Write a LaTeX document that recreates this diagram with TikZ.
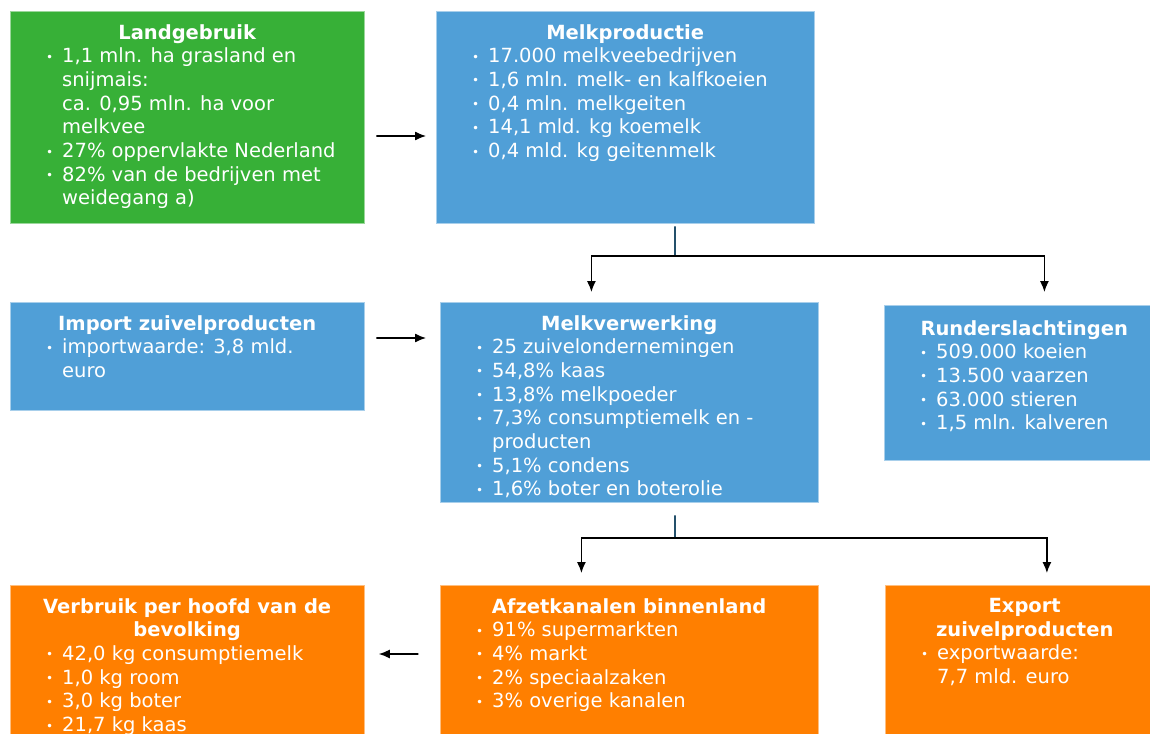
\documentclass[tikz,border=0pt]{standalone}
\usepackage{fontspec}
\setmainfont{DejaVu Sans}
\usetikzlibrary{arrows.meta}
\definecolor{landgreen}{HTML}{37B037}
\definecolor{flowblue}{HTML}{509FD7}
\definecolor{saleorange}{HTML}{FF7F00}
\definecolor{stemink}{HTML}{24506B}
\newcommand{\panelitem}{\makebox[17pt][l]{\hspace{1pt}\raisebox{1.5pt}{\fontsize{12}{12}\selectfont •}}}
\newcommand{\panelcont}{\hspace*{17pt}}
\newcommand{\paneltitle}[2]{\makebox[#1pt][c]{\bfseries #2}}

\begin{document}
\begin{tikzpicture}[x=1pt,y=-1pt,line cap=round,
    panel/.style={fill=#1,draw=#1!50!white,line width=0.8pt,anchor=north west,inner sep=0pt},
    paneltext/.style={anchor=north west,align=left,inner sep=0pt,text=white,font=\fontsize{19.5}{23.7}\selectfont},
    flow/.style={line width=1.3pt,black},
    flowarrow/.style={flow,-{Latex[length=11pt,width=9pt]}},
    stem/.style={line width=1.3pt,stemink}]
    \useasboundingbox (0,0) rectangle (1150,733);
    \clip (0,0) rectangle (1150,733);
    \node[panel=landgreen,minimum width=354,minimum height=212] (landbox) at (10,11) {};
    \node[panel=flowblue,minimum width=378,minimum height=212] (prodbox) at (436,11) {};
    \node[panel=flowblue,minimum width=354,minimum height=108] (importbox) at (10,302) {};
    \node[panel=flowblue,minimum width=378,minimum height=200] (verwbox) at (440,302) {};
    \node[panel=flowblue,minimum width=280,minimum height=155] (runderbox) at (884,305) {};
    \node[panel=saleorange,minimum width=354,minimum height=160] (verbruikbox) at (10,585) {};
    \node[panel=saleorange,minimum width=378,minimum height=160] (afzetbox) at (440,585) {};
    \node[panel=saleorange,minimum width=279,minimum height=160] (exportbox) at (885,585) {};
    \node[paneltext] (landtxt) at ([shift={(35,13)}]landbox.north west) {\paneltitle{284}{Landgebruik}\\
      \panelitem 1,1 mln. ha grasland en\\ \panelcont snijmais:\\ \panelcont ca. 0,95 mln. ha voor\\ \panelcont melkvee\\
      \panelitem 27\% oppervlakte Nederland\\ \panelitem 82\% van de bedrijven met\\ \panelcont weidegang a)};
    \node[paneltext] (prodtxt) at ([shift={(35,13)}]prodbox.north west) {\paneltitle{308}{Melkproductie}\\
      \panelitem 17.000 melkveebedrijven\\ \panelitem 1,6 mln. melk- en kalfkoeien\\ \panelitem 0,4 mln. melkgeiten\\
      \panelitem 14,1 mld. kg koemelk\\ \panelitem 0,4 mld. kg geitenmelk};
    \node[paneltext] (importtxt) at ([shift={(35,13)}]importbox.north west) {\paneltitle{284}{Import zuivelproducten}\\
      \panelitem importwaarde: 3,8 mld.\\ \panelcont euro};
    \node[paneltext] (verwtxt) at ([shift={(35,13)}]verwbox.north west) {\paneltitle{308}{Melkverwerking}\\
      \panelitem 25 zuivelondernemingen\\ \panelitem 54,8\% kaas\\ \panelitem 13,8\% melkpoeder\\
      \panelitem 7,3\% consumptiemelk en -\\ \panelcont producten\\ \panelitem 5,1\% condens\\ \panelitem 1,6\% boter en boterolie};
    \node[paneltext] (rundertxt) at ([shift={(35,15)}]runderbox.north west) {\paneltitle{210}{Runderslachtingen}\\
      \panelitem 509.000 koeien\\ \panelitem 13.500 vaarzen\\ \panelitem 63.000 stieren\\ \panelitem 1,5 mln. kalveren};
    \node[paneltext] (verbruiktxt) at ([shift={(35,13)}]verbruikbox.north west) {\paneltitle{284}{Verbruik per hoofd van de}\\
      \paneltitle{284}{bevolking}\\ \panelitem 42,0 kg consumptiemelk\\ \panelitem 1,0 kg room\\ \panelitem 3,0 kg boter\\ \panelitem 21,7 kg kaas};
    \node[paneltext] (afzettxt) at ([shift={(35,13)}]afzetbox.north west) {\paneltitle{308}{Afzetkanalen binnenland}\\
      \panelitem 91\% supermarkten\\ \panelitem 4\% markt\\ \panelitem 2\% speciaalzaken\\ \panelitem 3\% overige kanalen};
    \node[paneltext] (exporttxt) at ([shift={(35,13)}]exportbox.north west) {\paneltitle{209}{Export}\\
      \paneltitle{209}{zuivelproducten}\\ \panelitem exportwaarde:\\ \panelcont 7,7 mld. euro};
    \draw[flowarrow] ([shift={(12,125)}]landbox.north east) -- ([shift={(-10,125)}]prodbox.north west);
    \draw[flowarrow] ([shift={(12,36)}]importbox.north east) -- ([shift={(-14,36)}]verwbox.north west);
    \draw[flowarrow] ([shift={(-22,69)}]afzetbox.north west) -- ([shift={(14,69)}]verbruikbox.north east);
    \coordinate (prodfork) at (675,256);
    \draw[stem,shorten <=3pt] (prodbox.south -| prodfork) -- (prodfork);
    \draw[flowarrow] (prodfork) -| ([shift={(-38,-10)}]verwbox.north);
    \draw[flowarrow] (prodfork) -| ([shift={(20,-13)}]runderbox.north);
    \coordinate (verwfork) at (675,538);
    \draw[stem,shorten <=13pt] (verwbox.south -| verwfork) -- (verwfork);
    \draw[flowarrow] (verwfork) -| ([shift={(-48,-12)}]afzetbox.north);
    \draw[flowarrow] (verwfork) -| ([shift={(22,-12)}]exportbox.north);
  \end{tikzpicture}
\end{document}
